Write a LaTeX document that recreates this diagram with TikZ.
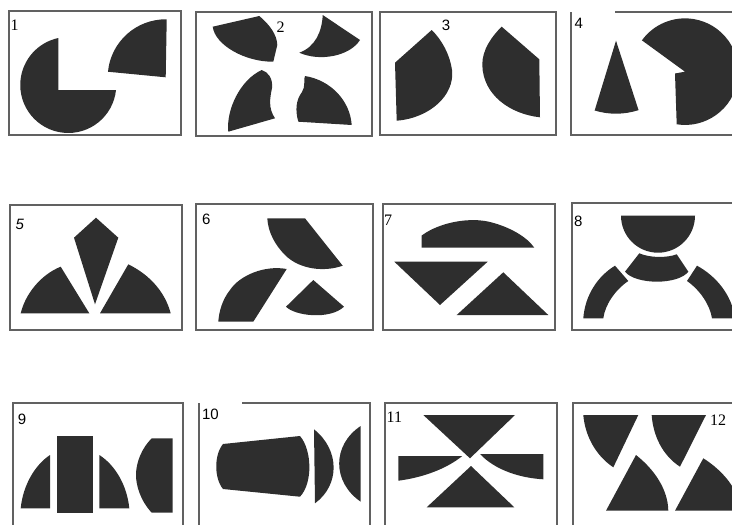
\documentclass[tikz,border=0pt]{standalone}
\usepackage{fontspec}
\setmainfont{Liberation Serif}
\newfontfamily\arialfont{Liberation Sans}
\begin{document}
\begin{tikzpicture}[x=1pt, y=-1pt,
	frame/.style={draw=black!62, line width=1.8pt},
	piece/.style={fill=black!82},
	lbl/.style={inner sep=0pt, font=\fontsize{16}{16}\selectfont},
	lblsans/.style={lbl, font=\fontsize{15}{15}\selectfont\arialfont}]
	\useasboundingbox (0,0) rectangle (732,525);
	\clip (0,0) rectangle (732,525);
	% frames
	\draw[frame] (9,11) rectangle (181,135);
	\draw[frame] (196,12) rectangle (372,136);
	\draw[frame] (380,12) rectangle (556,135);
	\draw[frame] (615,12) -- (745,12) (571,12) -- (571,135) -- (745,135);
	\draw[frame] (10,205) rectangle (182,330);
	\draw[frame] (196,204) rectangle (373,330);
	\draw[frame] (383,204) rectangle (555,330);
	\draw[frame] (572,203) rectangle (745,330);
	\draw[frame] (13,540) -- (13,403) -- (183,403) -- (183,540);
	\draw[frame] (199,540) -- (199,403) (242,403) -- (370,403) -- (370,540);
	\draw[frame] (385,540) -- (385,403) -- (557,403) -- (557,540);
	\draw[frame] (573,540) -- (573,403) -- (745,403);
	% labels
	\node[lbl] (n1) at (14.5,25) {1};
	\node[lbl] (n2) at (280.7,27.5) {2};
	\node[lblsans] (n3) at (446,25.3) {3};
	\node[lblsans] (n4) at (578.8,23.3) {4};
	\node[lblsans] (n5) at (19.7,224.5) {\itshape 5};
	\node[lblsans] (n6) at (206.3,219.7) {6};
	\node[lbl] (n7) at (388,220) {7};
	\node[lblsans] (n8) at (578.3,221) {8};
	\node[lblsans] (n9) at (22,419.7) {9};
	\node[lblsans] (n10) at (210.5,414.5) {10};
	\node[lbl] (n11) at (394.3,417.5) {11};
	\node[lbl] (n12) at (718,420.5) {12};
	% 1
	\fill[piece] (58.3,38.1) -- (58.3,90) -- (116,90) arc[start angle=6, end angle=258, radius=48] -- cycle;
	\fill[piece] (165.7,77.3) -- ++(185.5:58) arc[start angle=185.5, end angle=271, radius=58] -- cycle;
	% 2
	\fill[piece] (212.7,26.7) -- (259.3,16) .. controls (270,25) and (277,35) .. (277.3,45) -- (273.3,61.7)
		.. controls (245,62) and (215,45) .. (212.7,26.7) -- cycle;
	\fill[piece] (322.7,15) -- (360,40) .. controls (350,56) and (320,62) .. (299.3,52.7)
		.. controls (315,47) and (322,32) .. (322.7,15) -- cycle;
	\fill[piece] (261.7,70) .. controls (268,72) and (273,78) .. (272,88) .. controls (270,98) and (268,108) .. (275,118.3)
		-- (228.3,131.7) .. controls (226,110) and (240,80) .. (261.7,70) -- cycle;
	\fill[piece] (305,76) .. controls (330,80) and (350,100) .. (351.7,125) -- (298.3,121.7)
		.. controls (295,110) and (296,100) .. (302,92) .. controls (306,86) and (303,80) .. (305,76) -- cycle;
	% 3
	\fill[piece] (431.7,30) -- (395,62.7) -- (396.7,120.7) .. controls (430,118) and (455,95) .. (452,70)
		.. controls (450,55) and (442,40) .. (431.7,30) -- cycle;
	\fill[piece] (501.7,26.7) -- (539.3,59.3) -- (540,117.3) .. controls (510,114) and (483,95) .. (482.3,65)
		.. controls (482,50) and (492,36) .. (501.7,26.7) -- cycle;
	% 4
	\fill[piece] (616,40.7) -- ++(107:73) arc[start angle=107, end angle=72, radius=73] -- cycle;
	\fill[piece] (685,71.7) -- (675,73.5) -- (676.7,124.3) arc[start angle=99, end angle=-144, radius=53.3] -- cycle;
	% 5
	\fill[piece] (96,217.7) -- (118.3,237.7) -- (95,304.3) -- (74,237.7) -- cycle;
	\fill[piece] (60.7,266.7) -- (89.3,313.3) -- (20.7,313.3) .. controls (25,295) and (40,275) .. (60.7,266.7) -- cycle;
	\fill[piece] (128.3,264.3) -- (100,313.3) -- (170.7,313.3) .. controls (165,292) and (150,275) .. (128.3,264.3) -- cycle;
	% 6
	\fill[piece] (267.3,218.3) -- (305,218.3) -- (342.7,265.7) .. controls (325,272) and (300,270) .. (285,255)
		.. controls (275,245) and (268,232) .. (267.3,218.3) -- cycle;
	\fill[piece] (218.3,321.7) -- (253.3,321.7) -- (286.7,269) .. controls (265,265) and (240,275) .. (230,290)
		.. controls (222,300) and (219,312) .. (218.3,321.7) -- cycle;
	\fill[piece] (313.3,280) -- (286,306.7) .. controls (295,316) and (330,320) .. (344,306.7) -- cycle;
	% 7
	\fill[piece] (421.7,247.7) -- (421.7,235.5) .. controls (440,222) and (470,217) .. (490,222)
		.. controls (510,227) and (527,237) .. (534.3,247.7) -- cycle;
	\fill[piece] (394.3,261.7) -- (487.7,261.7) -- (440,305) -- cycle;
	\fill[piece] (503.3,272.3) -- (548.3,315) -- (456.7,315) -- cycle;
	% 8
	\fill[piece] (621,215.7) -- (695,215.7) arc[start angle=0, end angle=180, radius=37] -- cycle;
	\fill[piece] (639.3,253.3) .. controls (650,258) and (667,258) .. (676.7,254.3) -- (688.3,271.7)
		.. controls (678,285) and (636,285) .. (625,271.7) -- cycle;
	\fill[piece] (583.3,318.3) .. controls (585,295) and (598,276) .. (615,265.7) -- (628.3,281)
		.. controls (615,290) and (605,305) .. (603.3,318.3) -- cycle;
	\fill[piece] (697,265.7) -- (687,281) .. controls (700,290) and (710,305) .. (712,318.3) -- (735,318.3)
		.. controls (732,295) and (716,276) .. (697,265.7) -- cycle;
	% 9
	\fill[piece] (50,455) -- (50,508.3) -- (20.7,508.3) .. controls (23,485) and (35,465) .. (50,455) -- cycle;
	\fill[piece] (57.3,436) rectangle (92.7,512.7);
	\fill[piece] (99.3,455) -- (99.3,508.3) -- (129.3,508.3) .. controls (127,485) and (115,465) .. (99.3,455) -- cycle;
	\fill[piece] (151.7,438.3) -- (172.7,438.3) -- (172.7,512.7) -- (151.7,512.7) .. controls (140,500) and (136,485) .. (136,475)
		.. controls (136,462) and (142,448) .. (151.7,438.3) -- cycle;
	% 10
	\fill[piece] (223,444) -- (300,436) .. controls (312,450) and (313,483) .. (300,496.7) -- (223,489)
		.. controls (214,478) and (214,455) .. (223,444) -- cycle;
	\fill[piece] (314,429.3) .. controls (340,450) and (340,485) .. (315,503.3) -- cycle;
	\fill[piece] (360.7,426) .. controls (332,445) and (332,482) .. (360.7,501.7) -- cycle;
	% 11
	\fill[piece] (423.3,415) -- (515,415) -- (470,458.3) -- cycle;
	\fill[piece] (471,466) -- (514.3,507.3) -- (426.7,507.3) -- cycle;
	\fill[piece] (398.3,456) -- (462.3,456) .. controls (445,470) and (420,478) .. (398.3,480.7) -- cycle;
	\fill[piece] (480,454) -- (543.3,454) -- (543.3,479.3) .. controls (520,478) and (495,470) .. (480,454) -- cycle;
	% 12
	\fill[piece] (583.3,415) -- (638.3,415) -- (613.3,467.3) .. controls (595,455) and (585,435) .. (583.3,415) -- cycle;
	\fill[piece] (651.7,415) -- (706,415) -- (680,466.7) .. controls (662,455) and (653,435) .. (651.7,415) -- cycle;
	\fill[piece] (636,455) -- (606,510.7) -- (668.3,510.7) .. controls (668,490) and (655,470) .. (636,455) -- cycle;
	\fill[piece] (703.3,458.3) -- (675,510.7) -- (740,510.7) .. controls (740,490) and (722,470) .. (703.3,458.3) -- cycle;
\end{tikzpicture}
\end{document}
